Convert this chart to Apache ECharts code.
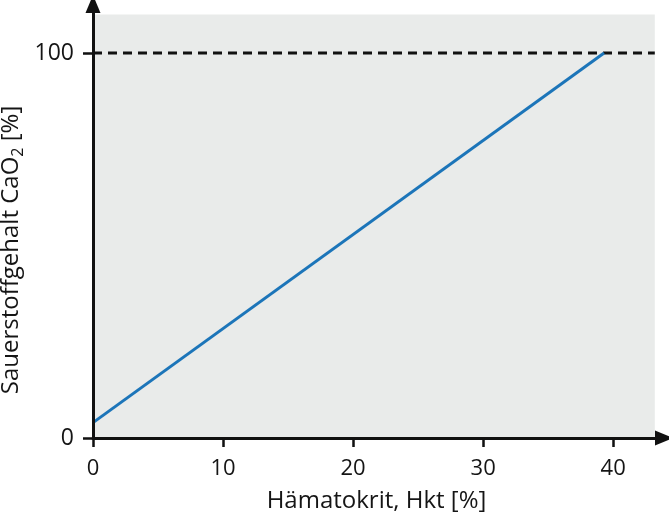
<!DOCTYPE html>
<html>
<head>
<meta charset="utf-8">
<script src="https://cdn.jsdelivr.net/npm/echarts@6/dist/echarts.min.js"></script>
<style>
html, body { margin: 0; padding: 0; background: #fff; }
#chart { width: 669px; height: 516px; }
</style>
</head>
<body>
<div id="chart"></div>
<script>
// Hämatokrit vs. Sauerstoffgehalt
const hktValues = [0, 39.3];
const caoValues = [4, 100];
const xTicks = [0, 10, 20, 30, 40];
const yTicks = [0, 100];
const refLevel = 100;
const areaXMax = 43.2;
const areaYMax = 110;

const chart = echarts.init(document.getElementById('chart'));
const font = '"Open Sans", "Noto Sans", sans-serif';

chart.setOption({
    backgroundColor: '#fff',
    animation: false,
    grid: { left: 93, right: 9, top: 8, bottom: 78, outerBoundsMode: 'none', containLabel: false },
    xAxis: {
        type: 'value',
        min: 0,
        max: 43.6,
        interval: 10,
        z: 10,
        name: 'Hämatokrit, Hkt [%]',
        nameLocation: 'middle',
        nameGap: 51,
        nameMoveOverlap: false,
        nameTextStyle: { fontFamily: font, fontSize: 24, color: '#151515' },
        axisLine: {
            lineStyle: { color: '#111', width: 3 },
            symbol: ['none', 'triangle'],
            symbolSize: [15, 18],
            symbolOffset: [0, 4]
        },
        axisTick: { customValues: xTicks, length: 9, lineStyle: { color: '#111', width: 2.5 } },
        axisLabel: { customValues: xTicks, margin: 20, fontFamily: font, fontSize: 22, color: '#151515' },
        splitLine: { show: false }
    },
    yAxis: {
        type: 'value',
        min: 0,
        max: 111.7,
        interval: 100,
        z: 10,
        name: 'Sauerstoffgehalt CaO{sub|2} [%]',
        nameLocation: 'middle',
        nameGap: 67,
        nameMoveOverlap: false,
        nameTextStyle: {
            fontFamily: font, fontSize: 24, color: '#151515',
            padding: [0, 0, 0, -54],
            rich: { sub: { fontFamily: font, fontSize: 16, color: '#151515', verticalAlign: 'bottom', padding: [14, 0, 0, 0] } }
        },
        axisLine: {
            lineStyle: { color: '#111', width: 3 },
            symbol: ['none', 'triangle'],
            symbolSize: [15, 18],
            symbolOffset: [0, 4]
        },
        axisTick: { customValues: yTicks, length: 10, lineStyle: { color: '#111', width: 2.5 } },
        axisLabel: { customValues: yTicks, margin: 19, fontFamily: font, fontSize: 23, color: '#151515' },
        splitLine: { show: false }
    },
    series: [
        {
            type: 'line',
            data: [[0, 0], [0, 0]],
            symbol: 'none',
            lineStyle: { width: 0 },
            silent: true,
            z: 0,
            markArea: {
                silent: true,
                itemStyle: { color: '#e9ebea' },
                data: [[{ coord: [0, 0] }, { coord: [areaXMax, areaYMax] }]]
            }
        },
        {
            type: 'line',
            data: [[0, refLevel], [areaXMax, refLevel]],
            symbol: 'none',
            lineStyle: { color: '#111', width: 3, type: [9, 6] },
            z: 2
        },
        {
            type: 'line',
            data: hktValues.map((x, i) => [x, caoValues[i]]),
            symbol: 'none',
            lineStyle: { color: '#1c75b9', width: 3 },
            z: 3
        }
    ]
});
</script>
</body>
</html>
